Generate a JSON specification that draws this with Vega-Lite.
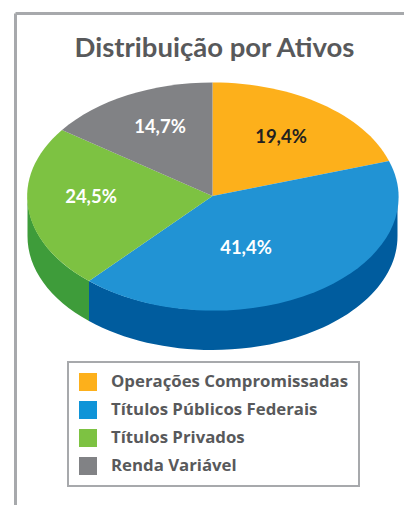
{
  "$schema": "https://vega.github.io/schema/vega-lite/v6.json",
  "width": 389,
  "height": 492,
  "padding": {"left": 15, "top": 13, "right": 0, "bottom": 0},
  "autosize": "none",
  "background": "white",
  "config": {"view": {"stroke": null}, "font": "Lato", "legend": {"strokeWidth": 2}},
  "title": {"text": "Distribuição por Ativos", "anchor": "middle", "dx": 5, "offset": -49, "fontSize": 27.5, "fontWeight": 700, "font": "Lato", "color": "#58595b"},
  "datasets": {
    "ativos": [
      {"ativo": "Operações Compromissadas", "participacao": 19.4, "rotulo": "19,4%"},
      {"ativo": "Títulos Públicos Federais", "participacao": 41.4, "rotulo": "41,4%"},
      {"ativo": "Títulos Privados", "participacao": 24.5, "rotulo": "24,5%"},
      {"ativo": "Renda Variável", "participacao": 14.7, "rotulo": "14,7%"}
    ]
  },
  "data": {"name": "ativos"},
  "encoding": {
    "x": {"datum": 197.5, "type": "quantitative", "scale": {"domain": [0, 389]}, "axis": {"orient": "top", "title": null, "labels": false, "ticks": false, "grid": false, "domainColor": "#a7a9ac", "domainWidth": 3}},
    "y": {"datum": 183, "type": "quantitative", "scale": {"domain": [0, 492], "reverse": true}, "axis": {"orient": "left", "title": null, "labels": false, "ticks": false, "grid": false, "domainColor": "#a7a9ac", "domainWidth": 3}}
  },
  "layer": [
    {
      "mark": {"type": "point", "filled": true, "size": 0, "opacity": 1},
      "encoding": {
        "color": {"field": "ativo", "type": "nominal", "title": null,
          "scale": {"domain": ["Operações Compromissadas", "Títulos Públicos Federais", "Títulos Privados", "Renda Variável"], "range": ["#fdb01b", "#0f94d8", "#7dc242", "#818285"]},
          "legend": {"orient": "none", "legendX": 53, "legendY": 349, "padding": 11, "symbolType": "square", "symbolSize": 324, "symbolStrokeWidth": 0, "rowPadding": 10, "labelFontSize": 16.8, "labelFontWeight": 700, "labelFont": "Open Sans", "labelColor": "#58595b", "labelOffset": 14, "labelLimit": 300, "fillColor": "white", "strokeColor": "#a7a9ac"}}
      }
    },
    {
      "transform": [{"filter": "datum.ativo === 'Títulos Públicos Federais' || datum.ativo === 'Títulos Privados'"}],
      "mark": {"type": "point", "filled": true, "size": 4, "opacity": 1},
      "encoding": {
        "color": {"field": "ativo", "type": "nominal", "legend": null, "scale": {"domain": ["Títulos Públicos Federais", "Títulos Privados"], "range": ["#005c9e", "#3e9c3a"]}},
        "shape": {"field": "ativo", "type": "nominal", "legend": null, "scale": {"domain": ["Títulos Públicos Federais", "Títulos Privados"], "range": [
          "M185,0 A185,113.5 0 0 1 -123.5,85 L-123.5,125 A185,113.5 0 0 0 185,40 Z",
          "M-123.5,85 A185,113.5 0 0 1 -185,0 L-185,40 A185,113.5 0 0 0 -123.5,125 Z"
        ]}}
      }
    },
    {
      "mark": {"type": "point", "filled": true, "size": 4, "opacity": 1},
      "encoding": {
        "color": {"field": "ativo", "type": "nominal", "legend": null,
          "scale": {"domain": ["Operações Compromissadas", "Títulos Públicos Federais", "Títulos Privados", "Renda Variável"], "range": ["#fdb01b", "#2193d4", "#7dc242", "#818285"]}},
        "shape": {"field": "ativo", "type": "nominal", "legend": null,
          "scale": {"domain": ["Operações Compromissadas", "Títulos Públicos Federais", "Títulos Privados", "Renda Variável"], "range": [
            "M0,0 L0,-113.5 A185,113.5 0 0 1 176.5,-35 Z",
            "M0,0 L176.5,-35 A185,113.5 0 0 1 -123.5,85 Z",
            "M0,0 L-123.5,85 A185,113.5 0 0 1 -150.5,-66 Z",
            "M0,0 L-150.5,-66 A185,113.5 0 0 1 0,-113.5 Z"
          ]}}
      }
    },
    {
      "transform": [{"filter": "datum.ativo === 'Operações Compromissadas'"}],
      "mark": {"type": "text", "fontSize": 18.5, "fontWeight": 700, "font": "Lato", "color": "#231f20"},
      "encoding": {"x": {"datum": 266}, "y": {"datum": 124}, "text": {"field": "rotulo"}}
    },
    {
      "transform": [{"filter": "datum.ativo === 'Títulos Públicos Federais'"}],
      "mark": {"type": "text", "fontSize": 18.5, "fontWeight": 700, "font": "Lato", "color": "white"},
      "encoding": {"x": {"datum": 231}, "y": {"datum": 235}, "text": {"field": "rotulo"}}
    },
    {
      "transform": [{"filter": "datum.ativo === 'Títulos Privados'"}],
      "mark": {"type": "text", "fontSize": 18.5, "fontWeight": 700, "font": "Lato", "color": "white"},
      "encoding": {"x": {"datum": 76}, "y": {"datum": 184}, "text": {"field": "rotulo"}}
    },
    {
      "transform": [{"filter": "datum.ativo === 'Renda Variável'"}],
      "mark": {"type": "text", "fontSize": 18.5, "fontWeight": 700, "font": "Lato", "color": "white"},
      "encoding": {"x": {"datum": 145}, "y": {"datum": 114}, "text": {"field": "rotulo"}}
    }
  ],
  "resolve": {"scale": {"color": "independent", "shape": "independent"}}
}
